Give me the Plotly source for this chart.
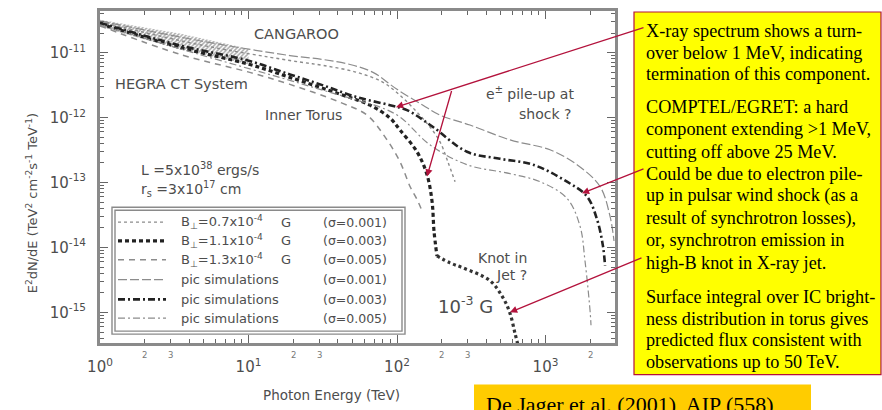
import numpy as np
import plotly.graph_objects as go

# ---- data: photon energy E (TeV) and E^2 dN/dE (TeV cm^-2 s^-1) ----
# HEGRA CT System band
hegra_E = [1.0, 3.5, 10.0]
hegra_hi = [3.19e-11, 1.95e-11, 1.15e-11]
hegra_lo = [2.49e-11, 1.11e-11, 6.56e-12]

# Inner torus IC models
b07_E = [1.0, 4.7, 19.0, 31.8, 53.8, 80.5, 104.7, 136.4, 166.8, 194.8, 220, 246]
b07_F = [2.97e-11, 1.32e-11, 7.55e-12, 6.34e-12, 4.96e-12, 3.48e-12, 2.21e-12,
         1.21e-12, 7.16e-13, 4.23e-13, 2.09e-13, 1.03e-13]

b11_E = [1.0, 3.5, 10.2, 19.0, 41.3, 65.8, 89.7, 104.7, 136.4, 159.2, 172.2, 177.5, 185.8]
b11_F = [2.77e-11, 1.19e-11, 6.56e-12, 4.15e-12, 2.29e-12, 1.55e-12, 9.82e-13,
         6.44e-13, 2.97e-13, 1.32e-13, 5.13e-14, 1.79e-14, 7.41e-15]

b13_E = [1.0, 3.5, 10.2, 19.0, 41.3, 62.8, 83.0, 104.7, 122.4, 138.4, 149.6]
b13_F = [2.58e-11, 9.32e-12, 4.96e-12, 3.24e-12, 1.72e-12, 1.09e-12, 5.04e-13,
         2.09e-13, 8.69e-14, 5.13e-14, 3.36e-14]

# 10^-3 G knot component
knot_E = [185.8, 227.5, 278, 423, 517, 577, 623, 653]
knot_F = [7.41e-15, 5.80e-15, 4.86e-15, 3.08e-15, 1.69e-15, 9.66e-16, 4.78e-16, 3.13e-16]

# pic simulations
pic1_E = [1.0, 4.7, 19.0, 31.8, 48.3, 68.9, 100, 149.6, 194.8, 310, 577, 1072,
          1630, 2328, 2718, 2893]
pic1_F = [3.08e-11, 1.52e-11, 9.0e-12, 7.82e-12, 6.56e-12, 4.96e-12, 2.72e-12,
          1.55e-12, 1.09e-12, 7.67e-13, 4.53e-13, 3.19e-13, 1.88e-13, 8.69e-14,
          3.03e-14, 1.26e-14]

pic3_E = [1.0, 3.5, 9.9, 19.0, 31.8, 53.8, 89.7, 116.8, 174.7, 296, 494, 824,
          1396, 1902, 2222, 2438, 2518]
pic3_F = [2.87e-11, 1.28e-11, 7.55e-12, 4.61e-12, 3.13e-12, 2.06e-12, 1.55e-12,
          1.30e-12, 7.16e-13, 2.97e-13, 2.32e-13, 1.88e-13, 1.03e-13, 6.11e-14,
          2.72e-14, 1.05e-14, 5.22e-15]

pic5_E = [1.0, 4.7, 19.0, 31.8, 53.8, 76.9, 104.7, 166.8, 296, 577, 918, 1396,
          1708, 1845, 1995, 2025]
pic5_F = [2.67e-11, 9.32e-12, 3.74e-12, 2.63e-12, 1.85e-12, 1.45e-12, 1.02e-12,
          3.80e-13, 1.88e-13, 1.37e-13, 1.03e-13, 5.70e-14, 2.13e-14, 6.22e-15,
          1.07e-15, 6.34e-16]

x_ticks = [1, 10, 100, 1000]
x_ticktext = ["10<sup>0</sup>", "10<sup>1</sup>", "10<sup>2</sup>", "10<sup>3</sup>"]
x_small_labels = [(2, "2"), (3, "3"), (20, "2"), (30, "3"), (200, "2"), (300, "3"), (2000, "2")]
y_ticks = [1e-11, 1e-12, 1e-13, 1e-14, 1e-15]
y_ticktext = ["10<sup>-11</sup>", "10<sup>-12</sup>", "10<sup>-13</sup>",
              "10<sup>-14</sup>", "10<sup>-15</sup>"]

legend_rows = [
    ("B<sub>⊥</sub>=0.7x10<sup>-4</sup>", "G", "(σ=0.001)"),
    ("B<sub>⊥</sub>=1.1x10<sup>-4</sup>", "G", "(σ=0.003)"),
    ("B<sub>⊥</sub>=1.3x10<sup>-4</sup>", "G", "(σ=0.005)"),
    ("pic simulations", "", "(σ=0.001)"),
    ("pic simulations", "", "(σ=0.003)"),
    ("pic simulations", "", "(σ=0.005)"),
]

note_par1 = ["X-ray spectrum shows a turn-",
             "over below 1 MeV, indicating",
             "termination of this component."]
note_par2 = ["COMPTEL/EGRET: a hard",
             "component extending &gt;1 MeV,",
             "cutting off above 25 MeV.",
             "Could be due to electron pile-",
             "up in pulsar wind shock (as a",
             "result of synchrotron losses),",
             "or, synchrotron emission in",
             "high-B knot in X-ray jet."]
note_par3 = ["Surface integral over IC bright-",
             "ness distribution in torus gives",
             "predicted flux consistent with",
             "observations up to 50 TeV."]
citation = "De Jager et al. (2001), AIP (558)"

# ---- styles ----
DARK = "#222222"
LIGHT = "#8c8c8c"
TXT = "#4d4d4d"
RED = "#B3123C"
styles = [
    dict(color=LIGHT, width=1.4, dash="3px,3px"),        # B=0.7
    dict(color=DARK, width=3.2, dash="4px,3px"),         # B=1.1
    dict(color=LIGHT, width=1.5, dash="6px,5px"),        # B=1.3
    dict(color=LIGHT, width=1.2, dash="9px,3px"),        # pic 0.001
    dict(color=DARK, width=2.6, dash="7px,3px,2px,3px"),  # pic 0.003
    dict(color=LIGHT, width=1.2, dash="7px,3px,2px,3px"),  # pic 0.005
]

W, H = 882, 410
ML, MR, MT, MB = 100, 267, 8, 67
PW, PH = W - ML - MR, H - MT - MB


def px(x):
    return (x - ML) / PW


def py(y):
    return (H - MB - y) / PH


fig = go.Figure()

# HEGRA band, hatched
fig.add_trace(go.Scatter(
    x=hegra_E + hegra_E[::-1], y=hegra_hi + hegra_lo[::-1],
    fill="toself", mode="lines", line=dict(width=0),
    fillcolor="rgba(0,0,0,0)",
    fillpattern=dict(shape="/", size=3, solidity=0.5, fgcolor="#555555", bgcolor="rgba(0,0,0,0)"),
    hoverinfo="skip", showlegend=False))

series = [(b07_E, b07_F, styles[0]), (b11_E, b11_F, styles[1]), (b13_E, b13_F, styles[2]),
          (pic1_E, pic1_F, styles[3]), (pic3_E, pic3_F, styles[4]), (pic5_E, pic5_F, styles[5])]
for ex, fy, st in series:
    fig.add_trace(go.Scatter(x=ex, y=fy, mode="lines", line=dict(shape="spline", **st),
                             showlegend=False, hoverinfo="skip"))
fig.add_trace(go.Scatter(x=knot_E, y=knot_F, mode="lines",
                         line=dict(shape="spline", color="#333333", width=3.2, dash="3px,3px"),
                         showlegend=False, hoverinfo="skip"))

minor_x = [m * 10 ** k for k in range(0, 4) for m in range(2, 10)]
minor_y = [m * 10.0 ** k for k in range(-16, -10) for m in range(2, 10)]

axis_common = dict(type="log", showgrid=False, zeroline=False, showline=True,
                   linecolor="#8a8a8a", linewidth=3, mirror="allticks",
                   ticks="inside", ticklen=8, tickwidth=1.3, tickcolor="#666",
                   tickfont=dict(family="DejaVu Sans", size=15, color=TXT))

fig.update_xaxes(range=[0, 3.468], tickmode="array", tickvals=x_ticks, ticktext=x_ticktext,
                 ticklabelstandoff=8,
                 minor=dict(tickmode="array", tickvals=minor_x, ticks="inside", ticklen=4,
                            tickcolor="#666", showgrid=False),
                 **axis_common)
fig.update_yaxes(range=[-15.47, -10.36], tickmode="array", tickvals=y_ticks, ticktext=y_ticktext,
                 ticklabelstandoff=8,
                 minor=dict(tickmode="array", tickvals=minor_y, ticks="inside", ticklen=4,
                            tickcolor="#666", showgrid=False),
                 **axis_common)

ann = []
shapes = []


def label(x, y, text, size=14, xanchor="left", color=TXT, family="DejaVu Sans", **kw):
    ann.append(dict(x=px(x), y=py(y), xref="paper", yref="paper", text=text, showarrow=False,
                    xanchor=xanchor, yanchor="middle",
                    font=dict(family=family, size=size, color=color), **kw))


# axis titles
ann.append(dict(x=px(22), y=py(202), xref="paper", yref="paper", showarrow=False,
                text="E<sup>2</sup>dN/dE (TeV<sup>2</sup> cm<sup>-2</sup>s<sup>-1</sup> TeV<sup>-1</sup>)",
                textangle=-90, font=dict(family="DejaVu Sans", size=13, color=TXT)))
label(331, 395, "Photon Energy (TeV)", size=13.5, xanchor="center")

# small minor-decade labels under the x axis
for v, t in x_small_labels:
    ann.append(dict(x=np.log10(v), y=py(362), xref="x", yref="paper", text=t, showarrow=False,
                    font=dict(family="DejaVu Sans", size=8.5, color="#777")))

# in-plot labels
label(296, 31, "CANGAROO", size=14.5, xanchor="center")
label(113, 82, "HEGRA CT System", size=14.5)
label(263, 113, "Inner Torus", size=14)
label(576, 91, "e<sup>±</sup> pile-up at", size=14, xanchor="right")
label(573, 112, "shock ?", size=14, xanchor="right")
label(529, 257, "Knot in", size=14, xanchor="right")
label(529, 274, "Jet ?", size=14, xanchor="right")
label(436, 305, "10<sup>-3</sup> G", size=18)
label(139, 167, "L =5x10<sup>38</sup> ergs/s", size=14)
label(139, 188, "r<sub>s</sub> =3x10<sup>17</sup> cm", size=14)

# legend box
for (x0, y0, x1, y1) in [(112, 206, 405, 334), (115, 209, 402, 331)]:
    shapes.append(dict(type="rect", xref="paper", yref="paper", x0=px(x0), x1=px(x1),
                       y0=py(y1), y1=py(y0), line=dict(color="#8a8a8a", width=1.4)))
row_y = [221, 240, 259, 279, 299, 318]
for (name, unit, sig), st, ry in zip(legend_rows, styles, row_y):
    shapes.append(dict(type="line", xref="paper", yref="paper", x0=px(118), x1=px(166),
                       y0=py(ry), y1=py(ry), line=dict(color=st["color"], width=st["width"],
                                                      dash=st["dash"])))
    label(179, ry, name, size=13)
    if unit:
        label(279, ry, unit, size=13)
    label(321, ry, sig, size=12.5)

# note box
shapes.append(dict(type="rect", xref="paper", yref="paper", x0=px(634), x1=px(881),
                   y0=py(375), y1=py(9), fillcolor="#FFFF00", line=dict(color=RED, width=1.2),
                   layer="above"))
for lines, y0, step in [(note_par1, 28, 22.0), (note_par2, 105, 22.4), (note_par3, 297, 21.7)]:
    for i, t in enumerate(lines):
        label(644, y0 + i * step, t, size=18.2, color="#000", family="Liberation Serif")

# citation box
shapes.append(dict(type="rect", xref="paper", yref="paper", x0=px(474), x1=px(811),
                   y0=py(430), y1=py(385), fillcolor="#FFCC00", line=dict(width=0), layer="above"))
label(484, 405, citation, size=22, color="#000", family="Liberation Serif")

# arrows from the note box
for (tx, ty, hx, hy) in [(645, 25, 396, 105), (452, 88, 427, 175),
                         (645, 167, 582, 192), (643, 257, 510, 312)]:
    ann.append(dict(x=px(hx), y=py(hy), xref="paper", yref="paper", text="",
                    showarrow=True, ax=tx - hx, ay=ty - hy, axref="pixel", ayref="pixel",
                    arrowhead=2, arrowsize=1.1, arrowwidth=1.3, arrowcolor=RED, standoff=0))

fig.update_layout(width=W, height=H, margin=dict(l=ML, r=MR, t=MT, b=MB),
                  paper_bgcolor="white", plot_bgcolor="white",
                  annotations=ann, shapes=shapes, showlegend=False,
                  font=dict(family="DejaVu Sans", color=TXT))

fig.write_html("out.html")
